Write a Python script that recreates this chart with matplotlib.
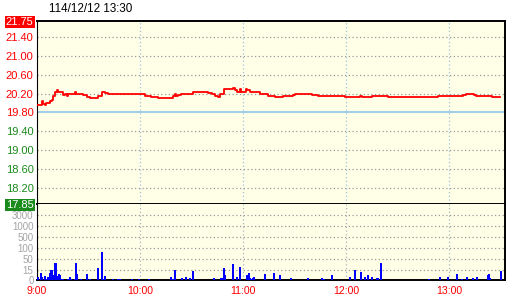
import numpy as np
import matplotlib
matplotlib.use('Agg')
import matplotlib.pyplot as plt

plt.rcParams['font.family'] = ['Liberation Sans', 'DejaVu Sans']

title = '114/12/12 13:30'
prev_close = 19.80
price_ticks = [17.85, 18.20, 18.60, 19.00, 19.40, 19.80, 20.20, 20.60, 21.00, 21.40, 21.75]

# minutes after 9:00 and price (step line)
price_min = [0, 2.7, 3.5, 4.7, 5.2, 7.6, 8.5, 9.5, 10.5, 11.5, 12.4, 13.0, 15.3, 16.3,
             17.3, 18.2, 22.1, 22.6, 27.0, 28.9, 30.9, 35.7, 37.7, 39.6, 41.2, 62.9,
             66.5, 70.7, 79.4, 80.4, 80.9, 82.3, 83.7, 91.0, 99.8, 101.7, 103.7, 105.6,
             106.4, 108.9, 114.3, 115.3, 116.7, 118.2, 118.7, 121.7, 122.1, 124.0, 129.9,
             134.7, 138.6, 140.6, 142.1, 143.5, 149.3, 150.3, 160.0, 163.9, 179.4, 181.4,
             186.2, 188.2, 189.1, 193.0, 195.0, 204.2, 211.4, 229.8, 233.4, 248.3, 249.6,
             254.7, 255.5, 265.2, 268.3, 269.7]
price_val = [19.95, 20.04, 19.99, 19.95, 20.00, 20.04, 20.07, 20.16, 20.23, 20.29, 20.23, 20.24, 20.17, 20.19,
             20.16, 20.20, 20.24, 20.20, 20.17, 20.14, 20.11, 20.16, 20.23, 20.21, 20.20, 20.16,
             20.14, 20.11, 20.16, 20.20, 20.16, 20.18, 20.20, 20.24, 20.21, 20.19, 20.16, 20.14,
             20.20, 20.30, 20.33, 20.28, 20.24, 20.30, 20.24, 20.30, 20.27, 20.24, 20.20,
             20.16, 20.14, 20.12, 20.14, 20.16, 20.18, 20.20, 20.18, 20.16, 20.14, 20.12,
             20.14, 20.16, 20.12, 20.14, 20.16, 20.14, 20.12, 20.14, 20.16, 20.18, 20.20,
             20.18, 20.16, 20.14, 20.12, 20.12]

vol_min = [0.4, 2.3, 3.1, 4.7, 6.0, 6.6, 7.4, 8.0, 8.5, 9.5, 10.1, 10.5, 11.1, 12.0, 12.8, 13.4,
           14.0, 15.3, 18.2, 19.2, 19.8, 22.1, 22.7, 23.3, 25.6, 29.1, 30.9, 35.7, 38.1, 38.6,
           39.8, 44.5, 47.0, 48.5, 55.1, 59.6, 65.0, 78.0, 79.4, 80.6, 84.6, 87.0, 89.3, 91.0,
           103.3, 107.4, 108.5, 109.1, 109.7, 114.3, 116.7, 118.4, 122.0, 123.2, 123.7, 124.3,
           124.9, 126.0, 126.6, 133.0, 138.2, 141.7, 148.1, 158.0, 166.2, 167.3, 172.0, 182.5,
           185.4, 188.9, 191.0, 193.0, 195.3, 198.0, 198.6, 200.5, 228.5, 234.9, 239.6, 244.8,
           247.7, 250.1, 253.6, 256.0, 262.4, 262.9, 263.5, 270.1]
vol_val = [4, 11, 4, 6, 2, 4, 11, 16, 15, 4, 8, 39, 39, 6, 10, 8,
           2, 1, 1, 4, 1, 2, 39, 10, 2, 10, 1, 22, 85, 2,
           6, 2, 1, 2, 2, 2, 2, 4, 1, 15, 3, 4, 3, 14,
           3, 3, 3, 21, 7, 34, 4, 24, 7, 10, 11, 3,
           1, 3, 4, 10, 11, 8, 3, 3, 3, 1, 7, 5,
           15, 12, 4, 8, 4, 3, 3, 37, 1, 4, 4, 10,
           1, 4, 3, 5, 7, 10, 3, 14]

vol_ticks = [0, 15, 50, 100, 500, 1000, 3000]
vol_steps = [0, 15, 50, 100, 500, 1000, 3000, 6000]
step_pos = [0, 9.7, 20.7, 31.7, 42.7, 53.7, 64.7, 76]

hour_min = [0, 60, 120, 180, 240]
hour_labels = ['9:00', '10:00', '11:00', '12:00', '13:00']

bg = '#ffffe8'
fig = plt.figure(figsize=(5.2, 3.0), dpi=100)
ax = fig.add_axes([37/520, 96/300, 468/520, 183/300])
axv = fig.add_axes([37/520, 20/300, 468/520, 76/300], sharex=ax)

# price panel
ax.set_facecolor(bg)
ax.set_xlim(0, 272.5)
ax.set_ylim(17.85, 21.75)
for t in hour_min[1:]:
    ax.axvline(t, color='#9cc4e0', lw=0.9, ls=(0, (1, 2)), zorder=1)
for p in price_ticks[1:-1]:
    if p != prev_close:
        ax.axhline(p, color='#999999', lw=0.9, ls=(0, (1, 2)), zorder=1)
ax.axhline(prev_close, color='#a0cde8', lw=1.4, zorder=1)
ax.plot(price_min, price_val, drawstyle='steps-post', color='red', lw=1.3, zorder=3)

ax.set_yticks(price_ticks)
ax.set_yticklabels(['%.2f' % p for p in price_ticks])
ax.tick_params(axis='y', length=0, pad=2.5, labelsize=8)
ax.tick_params(axis='x', length=0, labelbottom=False)
for lab, p in zip(ax.get_yticklabels(), price_ticks):
    lab.set_color('red' if p >= prev_close else '#1a8a1a')
    if p == price_ticks[-1]:
        lab.set_color('white')
        lab.set_bbox(dict(facecolor='red', edgecolor='none', pad=0.8))
    if p == price_ticks[0]:
        lab.set_color('white')
        lab.set_bbox(dict(facecolor='#1a8a1a', edgecolor='none', pad=0.8))
ax.spines['left'].set_linewidth(0.8)
for s in ['top', 'right', 'bottom']:
    ax.spines[s].set_linewidth(1.4)

# volume panel
fwd = lambda v: np.interp(v, vol_steps, step_pos)
inv = lambda y: np.interp(y, step_pos, vol_steps)
axv.set_facecolor(bg)
axv.set_yscale('function', functions=(fwd, inv))
axv.set_ylim(0, 6000)
for t in hour_min[1:]:
    axv.axvline(t, color='#a8b4c0', lw=0.9, ls=(0, (1, 2)), zorder=1)
for v in vol_ticks[1:]:
    axv.axhline(v, color='#999999', lw=0.9, ls=(0, (1, 2)), zorder=1)
axv.vlines(vol_min, 0, vol_val, color='#0000ff', lw=1.1, antialiased=False, zorder=3)
axv.set_yticks(vol_ticks)
axv.set_yticklabels([str(v) for v in vol_ticks])
axv.yaxis.set_minor_locator(plt.NullLocator())
axv.tick_params(axis='y', length=0, pad=2.5, labelsize=7, labelcolor='#a4a4a4')
axv.set_xticks(hour_min)
axv.set_xticklabels(hour_labels)
axv.tick_params(axis='x', length=0, pad=4, labelsize=7.6, labelcolor='red')
axv.spines['top'].set_visible(False)
axv.spines['left'].set_linewidth(0.8)
for s in ['right', 'bottom']:
    axv.spines[s].set_linewidth(1.4)

fig.text(49/520, 288.5/300, title, fontsize=8.4, color='black', va='baseline')

fig.savefig('out.png', dpi=100, facecolor='white')
